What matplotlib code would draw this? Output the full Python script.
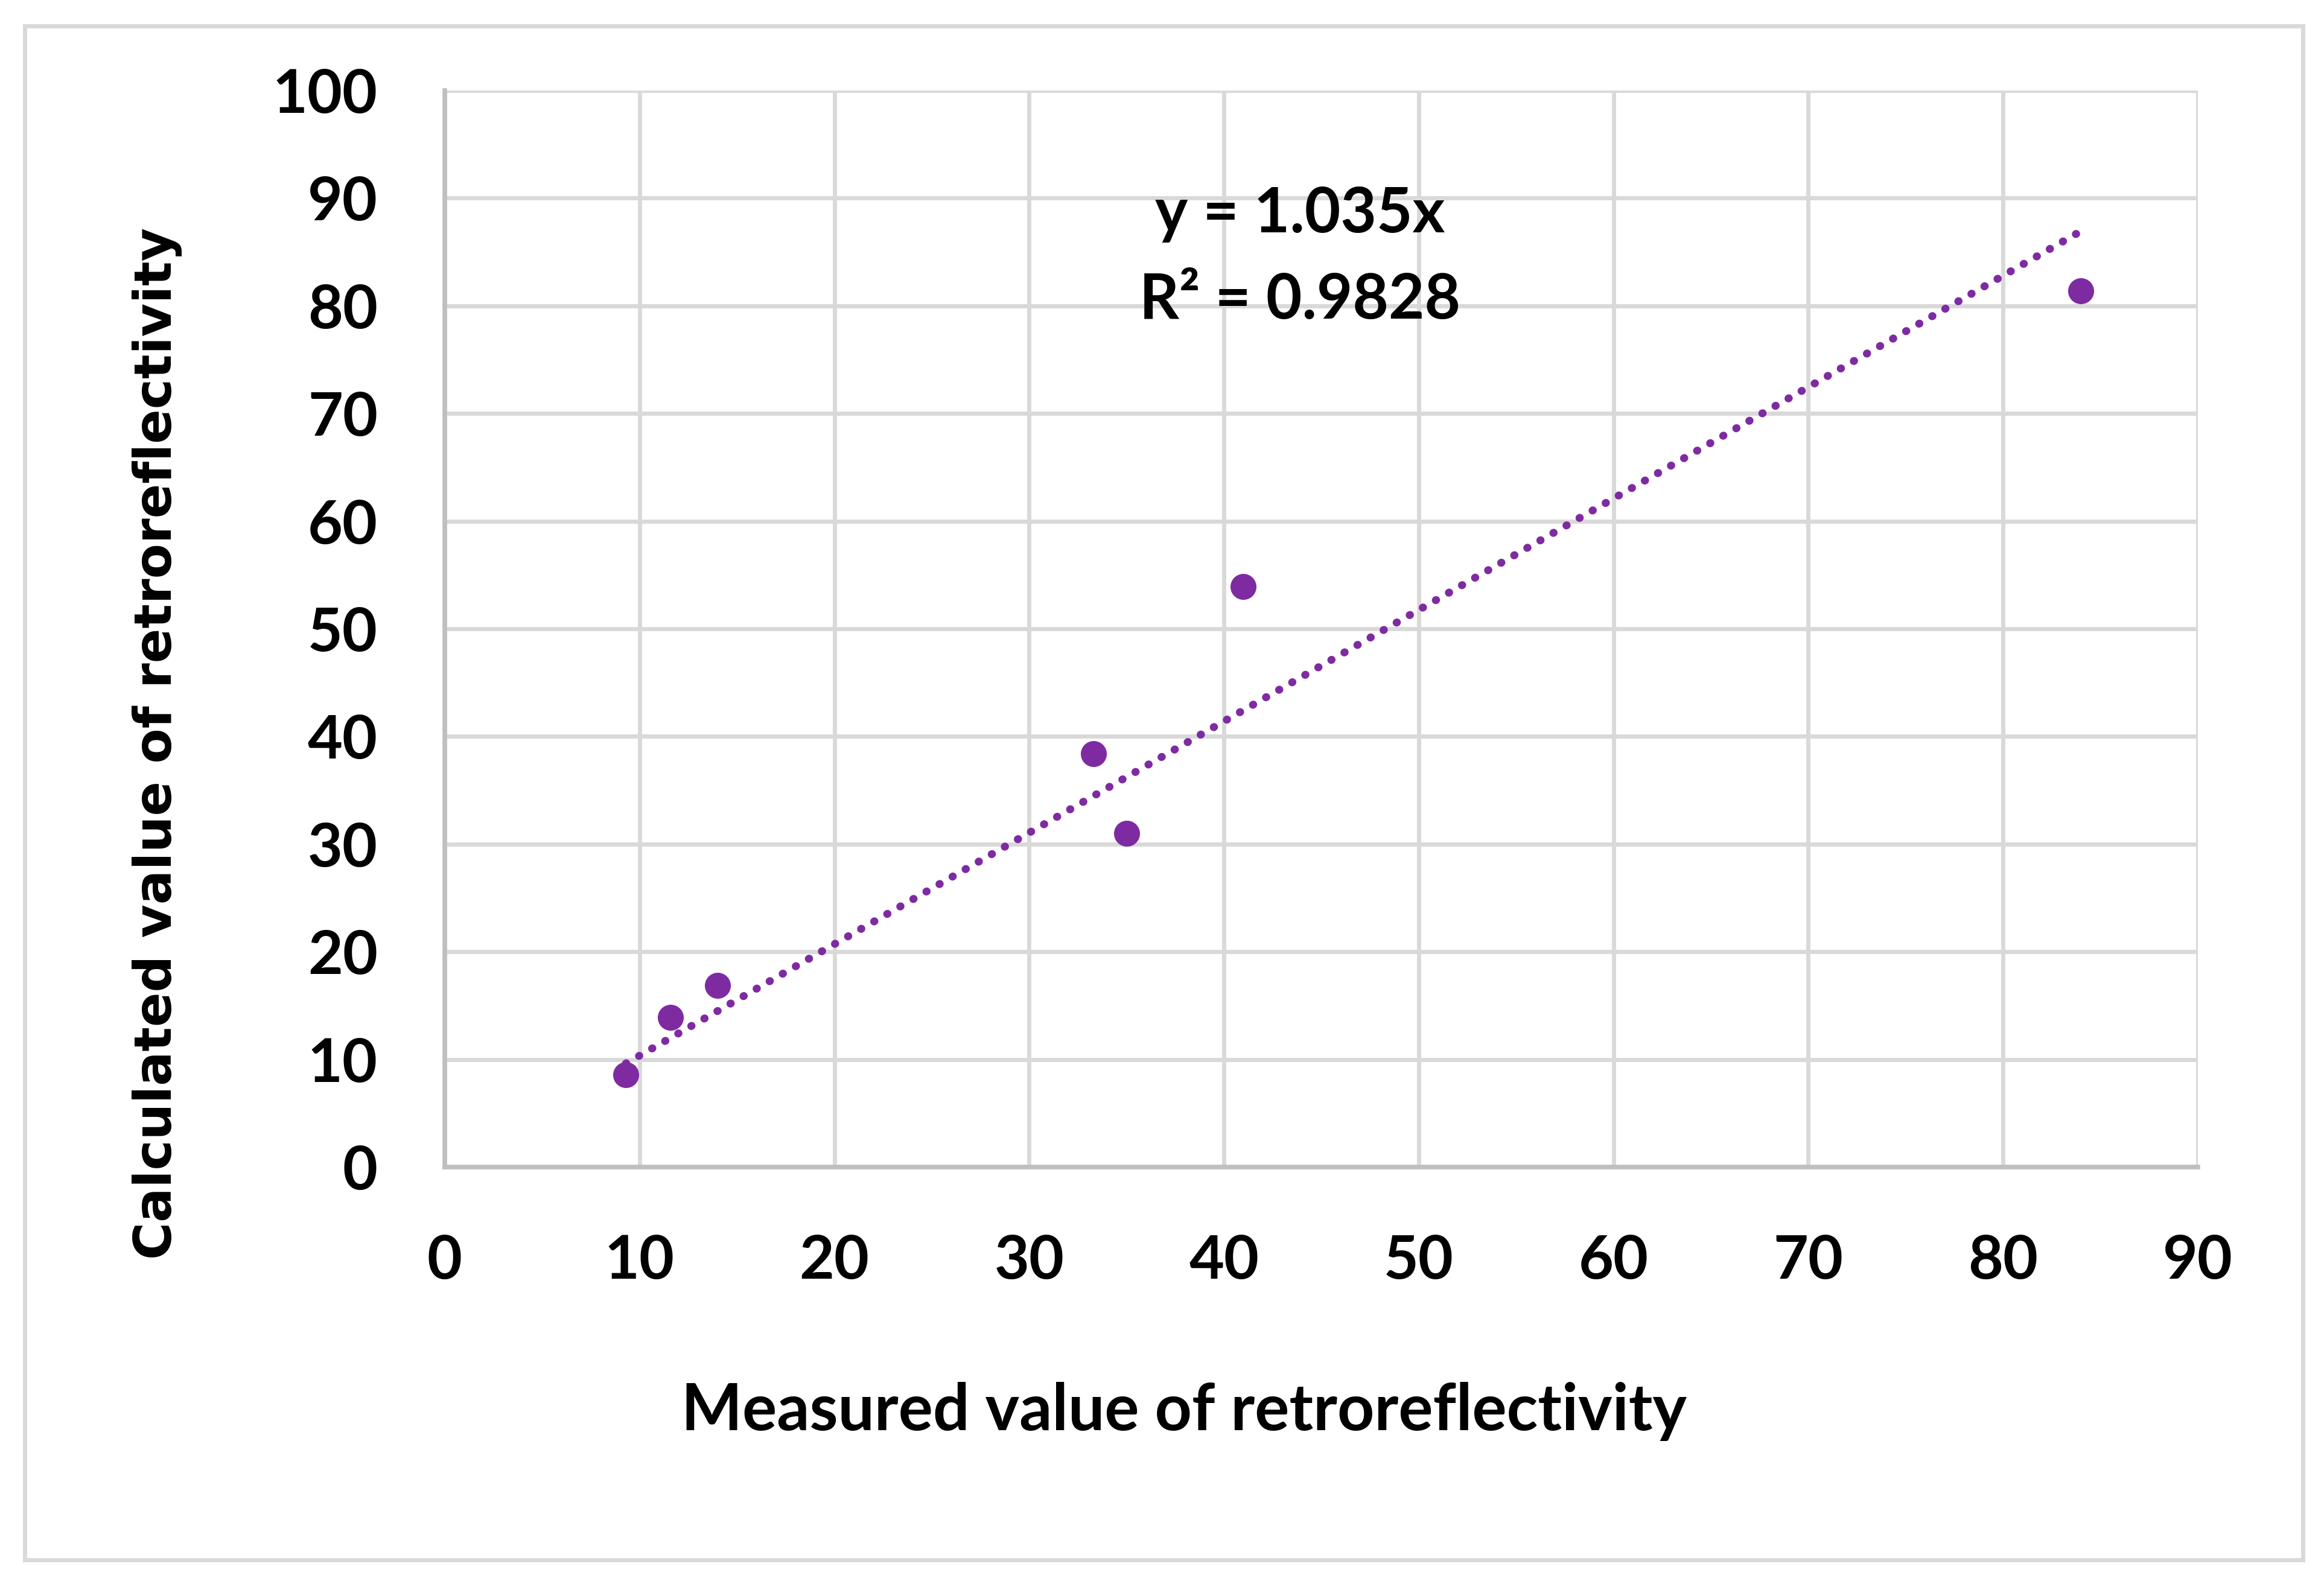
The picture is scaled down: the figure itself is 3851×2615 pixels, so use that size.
import numpy as np
import matplotlib
matplotlib.use('Agg')
import matplotlib.pyplot as plt
from matplotlib.patches import Rectangle

# data
measured = [9.3, 11.6, 14.0, 33.3, 35.0, 41.0, 84.0]
calculated = [8.6, 13.9, 16.9, 38.4, 31.0, 53.9, 81.4]
slope = 1.035
r_squared = 0.9828
x_ticks = list(range(0, 100, 10))
y_ticks = list(range(0, 110, 10))

purple = '#7E2BA2'
grid_grey = '#D9D9D9'

W, H = 3851, 2615
fig = plt.figure(figsize=(W / 100, H / 100), dpi=100)
fig.patch.set_facecolor('white')

# plot area in pixels: left 737, right 3642, top 150, bottom 1934
ax = fig.add_axes([737 / W, 1 - 1934 / H, (3642 - 737) / W, (1934 - 150) / H])
ax.set_xlim(0, 90)
ax.set_ylim(0, 100)
ax.set_xticks(x_ticks)
ax.set_yticks(y_ticks)
ax.grid(True, color=grid_grey, linewidth=5, zorder=0)
ax.set_axisbelow(True)
ax.tick_params(length=0, pad=80, labelsize=72)
for lab in ax.get_xticklabels() + ax.get_yticklabels():
    lab.set_fontfamily('Lato')
    lab.set_fontweight('bold')

for side in ['top', 'right']:
    ax.spines[side].set_visible(False)
for side in ['left', 'bottom']:
    ax.spines[side].set_color('#BFBFBF')
    ax.spines[side].set_linewidth(5.5)

# points
ax.plot(measured, calculated, linestyle='none', marker='o', markersize=31,
        color=purple, markeredgewidth=0, zorder=3, clip_on=False)

# linear trendline through origin
tx = np.array([min(measured), max(measured)])
ax.plot(tx, slope * tx, color=purple, linewidth=9.4,
        linestyle=(0, (0.05, 1.86)), dash_capstyle='round', zorder=4)

# trendline equation
ax.text(43.9, 86.8, 'y = %.3fx' % slope, ha='center', va='baseline',
        fontsize=74, fontweight='bold', family='Lato')
ax.text(43.9, 78.8, 'R² = %.4f' % r_squared, ha='center', va='baseline',
        fontsize=74, fontweight='bold', family=['Lato', 'DejaVu Sans'])

# axis titles
fig.text(1962 / W, 1 - 2370 / H, 'Measured value of retroreflectivity',
         ha='center', va='baseline', fontsize=77, fontweight='bold', family='Lato')
fig.text(261 / W, 1 - 1232 / H, 'Calculated value of retroreflectivity',
         ha='center', va='center', rotation=90, fontsize=61, fontweight='bold',
         family='DejaVu Sans')

# chart area border
fig.add_artist(Rectangle((41 / W, 1 - 2585 / H), (3816 - 41) / W, (2585 - 43) / H,
                         transform=fig.transFigure, fill=False,
                         edgecolor=grid_grey, linewidth=5))

fig.savefig('out.png', dpi=100)
